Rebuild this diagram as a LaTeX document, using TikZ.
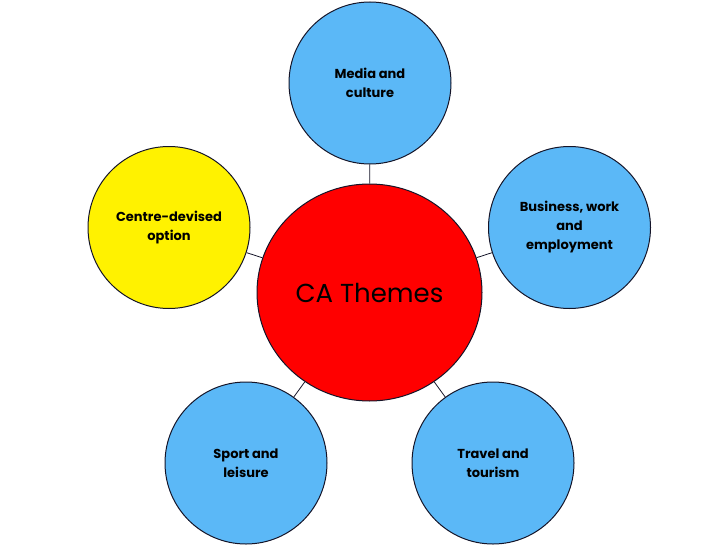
\documentclass[tikz,border=0pt]{standalone}
\usepackage{fontspec}
\setmainfont{Poppins}
\usetikzlibrary{shapes.geometric}
\definecolor{skyb}{RGB}{91,184,247}
\definecolor{edgec}{RGB}{20,20,40}
\begin{document}
\begin{tikzpicture}[x=1pt,y=-1pt,
  theme/.style={circle,draw=edgec,line width=1pt,minimum size=162pt,inner sep=0pt,align=center,
    font=\fontsize{13}{19}\selectfont\bfseries},
  link/.style={draw=edgec,line width=0.8pt}]
\useasboundingbox (0,0) rectangle (728,546);
\node[ellipse,draw=edgec,line width=1pt,fill=red,minimum width=225pt,minimum height=217pt,inner sep=0pt,
  font=\fontsize{26}{30}\selectfont] (c) at (369.5,292.5) {CA Themes};
\node[theme,fill=skyb] (m) at (370,83) {Media and\\culture};
\node[theme,fill=yellow] (o) at (169,227.5) {Centre-devised\\option};
\node[theme,fill=skyb] (b) at (569.5,227.5) {Business, work\\and\\employment};
\node[theme,fill=skyb] (s) at (246,463) {Sport and\\leisure};
\node[theme,fill=skyb] (t) at (493,463) {Travel and\\tourism};
\draw[link] (c) -- (m);
\draw[link] (c) -- (o);
\draw[link] (c) -- (b);
\draw[link] (c) -- (s);
\draw[link] (c) -- (t);
\end{tikzpicture}
\end{document}
